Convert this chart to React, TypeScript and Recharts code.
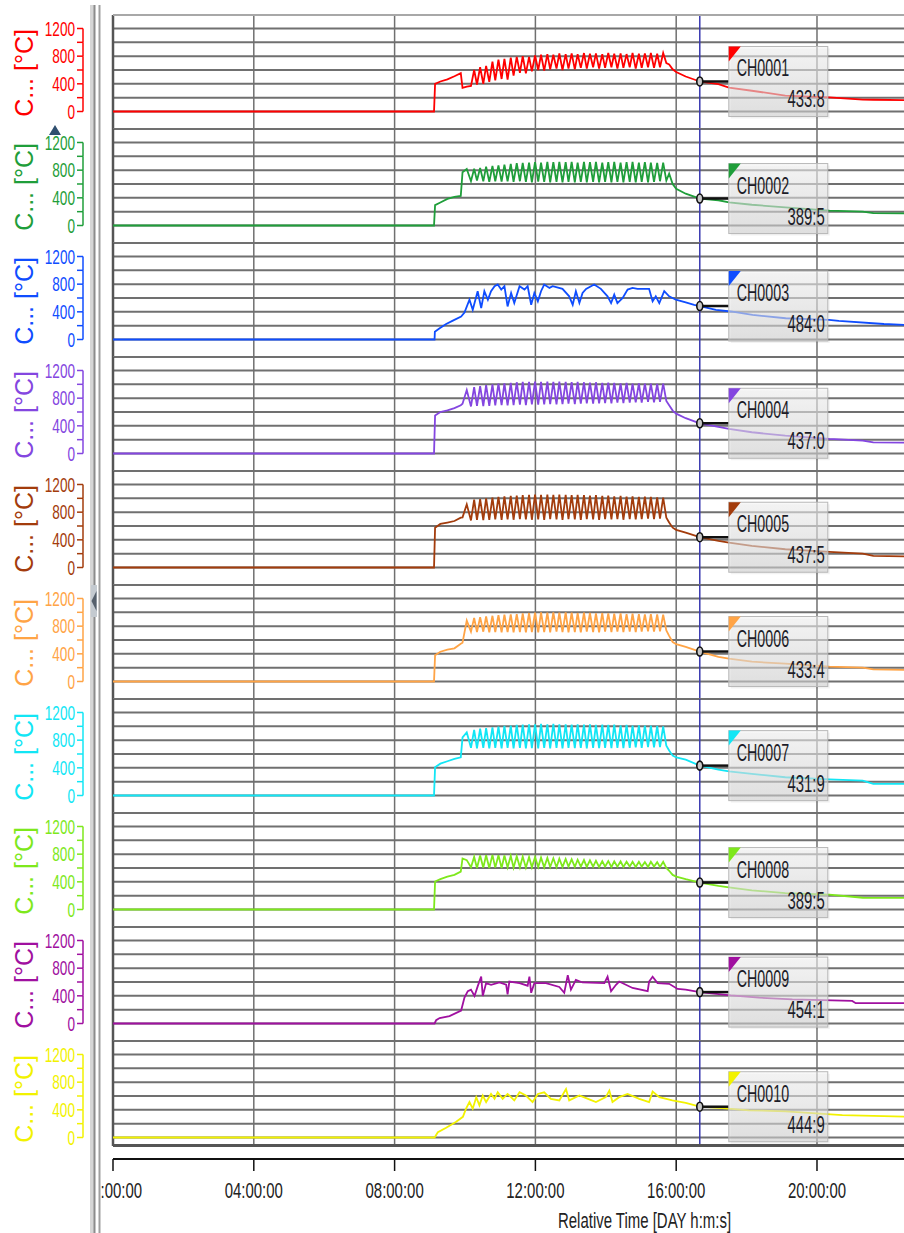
import { LineChart, Line, XAxis, YAxis, CartesianGrid, ReferenceLine, ReferenceDot } from "recharts";

const FONT = "'Liberation Sans', Arial, sans-serif";
const SQUEEZE = 0.68;

const CHANNELS = ["CH0001", "CH0002", "CH0003", "CH0004", "CH0005", "CH0006", "CH0007", "CH0008", "CH0009", "CH0010"];
const COLORS = ["#ff0000", "#1f9e3a", "#0f4dff", "#8446e0", "#a33c0c", "#ffa446", "#12e6f5", "#7ee81c", "#a010a0", "#f2f200"];
const AXIS_LABEL = "C... [°C]";
const Y_TICKS = [0, 200, 400, 600, 800, 1000, 1200];
const X_TICKS = [0, 4, 8, 12, 16, 20];
const X_TICK_LABELS = ["00:00:00", "04:00:00", "08:00:00", "12:00:00", "16:00:00", "20:00:00"];
const X_TITLE = "Relative Time [DAY h:m:s]";

// cursor read-out
const CURSOR_T = 16.67;
const CURSOR_V = [433.8, 389.5, 484.0, 437.0, 437.5, 433.4, 431.9, 389.5, 454.1, 444.9];
const CURSOR_TEXT = ["433:8", "389:5", "484:0", "437:0", "437:5", "433:4", "431:9", "389:5", "454:1", "444:9"];

// shared time bases (hours) for the cycling channels
const HEAD_T = [0, 9.12, 9.15, 9.3, 9.5, 9.7, 9.88, 9.93, 10.05];
const OSC_T = [
  10.17, 10.26, 10.34, 10.43, 10.52, 10.6, 10.69, 10.78, 10.86, 10.95,
  11.04, 11.12, 11.21, 11.3, 11.38, 11.47, 11.56, 11.64, 11.73, 11.82,
  11.9, 11.99, 12.08, 12.16, 12.25, 12.34, 12.42, 12.51, 12.6, 12.68,
  12.77, 12.86, 12.94, 13.03, 13.12, 13.2, 13.29, 13.38, 13.46, 13.55,
  13.64, 13.72, 13.81, 13.9, 13.98, 14.07, 14.16, 14.24, 14.33, 14.42,
  14.5, 14.59, 14.68, 14.76, 14.85, 14.94, 15.02, 15.11, 15.2, 15.28,
  15.37, 15.46, 15.54, 15.63, 15.72,
];
const TAIL_T = [15.8, 15.9, 16.0, 16.27, 16.67, 17.2, 17.5, 18.15, 19.1, 20.35, 21.3, 21.6, 22.6];

const CH1_HEAD = [0, 0, 400, 434, 465, 510, 554, 342, 361];
const CH1_OSC = [
  370, 600, 390, 640, 400, 660, 430, 720, 450, 750,
  470, 760, 460, 780, 520, 790, 560, 800, 550, 790,
  580, 810, 600, 820, 590, 830, 610, 820, 620, 840,
  600, 830, 620, 840, 610, 830, 630, 845, 620, 835,
  640, 840, 620, 830, 630, 845, 640, 835, 620, 840,
  630, 830, 640, 845, 620, 835, 630, 840, 640, 845,
  630, 835, 640, 845, 700,
];
const CH1_TAIL = [680, 610, 570, 506, 434, 395, 345, 300, 230, 205, 172, 170, 165];

const CH2_HEAD = [0, 0, 295, 333, 385, 415, 428, 770, 817];
const CH2_OSC = [
  640, 820, 650, 830, 640, 850, 630, 860, 640, 870,
  635, 880, 640, 890, 630, 900, 640, 905, 630, 910,
  625, 915, 635, 910, 630, 920, 625, 915, 630, 920,
  625, 915, 630, 920, 625, 910, 630, 920, 625, 915,
  630, 920, 625, 910, 630, 915, 625, 920, 630, 910,
  625, 915, 630, 920, 625, 910, 630, 915, 625, 910,
  630, 905, 640, 910, 650,
];
const CH2_TAIL = [750, 600, 530, 460, 390, 365, 335, 300, 262, 215, 200, 178, 176];

const CH3_T = [
  0, 9.135, 9.144, 9.28, 9.465, 9.655, 9.89, 9.985, 10.127, 10.22,
  10.36, 10.46, 10.55, 10.65, 10.74, 10.84, 10.93, 11.03, 11.12, 11.21,
  11.31, 11.4, 11.55, 11.69, 11.78, 11.88, 11.97, 12.07, 12.16, 12.25,
  12.4, 12.49, 12.77, 12.96, 13.06, 13.15, 13.25, 13.34, 13.44, 13.67,
  13.86, 14.05, 14.15, 14.24, 14.33, 14.48, 14.62, 14.76, 14.9, 15.23,
  15.33, 15.42, 15.52, 15.66, 15.8, 15.99, 16.27, 16.51, 16.67, 17.13,
  17.55, 18.17, 19.11, 20.34, 20.62, 21.9, 22.6,
];
const CH3_V = [
  0, 0, 112, 161, 224, 273, 332, 390, 575, 430,
  698, 454, 698, 575, 698, 770, 795, 722, 770, 478,
  673, 527, 770, 722, 770, 502, 673, 551, 698, 795,
  746, 770, 732, 624, 502, 698, 527, 673, 732, 795,
  732, 624, 527, 649, 527, 600, 722, 746, 732, 732,
  551, 624, 527, 698, 624, 575, 537, 502, 484, 429,
  405, 356, 307, 283, 268, 224, 210,
];

const CH4_HEAD = [0, 0, 551, 600, 625, 655, 698, 720, 917];
const CH4_OSC = [
  680, 960, 690, 975, 685, 990, 690, 1000, 695, 1010,
  700, 1015, 695, 1020, 700, 1030, 705, 1035, 700, 1035,
  710, 1040, 705, 1035, 710, 1040, 715, 1035, 710, 1040,
  715, 1035, 720, 1030, 715, 1035, 720, 1030, 725, 1025,
  720, 1030, 725, 1020, 730, 1025, 725, 1020, 735, 1015,
  730, 1020, 735, 1010, 740, 1015, 735, 1010, 745, 1010,
  740, 1005, 745, 1010, 760,
];
const CH4_TAIL = [698, 620, 576, 510, 437, 385, 355, 307, 258, 210, 185, 160, 158];

const CH5_HEAD = [0, 0, 576, 630, 650, 672, 720, 725, 912];
const CH5_OSC = [
  680, 980, 690, 990, 685, 1000, 690, 1010, 695, 1020,
  690, 1030, 695, 1035, 690, 1040, 700, 1045, 695, 1050,
  690, 1055, 695, 1050, 690, 1055, 700, 1050, 695, 1055,
  690, 1050, 700, 1045, 695, 1050, 690, 1045, 700, 1040,
  695, 1045, 690, 1035, 700, 1040, 695, 1030, 700, 1035,
  690, 1025, 700, 1030, 695, 1020, 700, 1025, 705, 1020,
  700, 1015, 705, 1010, 720,
];
const CH5_TAIL = [650, 576, 545, 504, 438, 384, 360, 312, 264, 226, 200, 168, 160];

const CH6_HEAD = [0, 0, 381, 430, 460, 480, 547, 560, 881];
const CH6_OSC = [
  720, 920, 715, 930, 720, 940, 710, 950, 715, 960,
  710, 965, 715, 970, 710, 975, 715, 985, 710, 990,
  715, 995, 710, 1000, 715, 995, 710, 1000, 720, 995,
  715, 1000, 710, 995, 715, 990, 710, 995, 720, 990,
  715, 985, 710, 990, 720, 985, 715, 980, 720, 985,
  715, 975, 720, 980, 715, 975, 720, 970, 725, 975,
  720, 970, 725, 965, 737,
];
const CH6_TAIL = [660, 571, 540, 500, 433, 357, 330, 286, 257, 214, 200, 176, 167];

const CH7_HEAD = [0, 0, 408, 460, 495, 528, 552, 840, 912];
const CH7_OSC = [
  690, 950, 680, 965, 690, 975, 680, 985, 690, 995,
  680, 1005, 690, 1010, 680, 1020, 690, 1025, 680, 1030,
  685, 1030, 680, 1035, 690, 1030, 680, 1035, 690, 1030,
  680, 1030, 690, 1025, 685, 1030, 690, 1025, 680, 1030,
  690, 1020, 685, 1025, 690, 1020, 685, 1025, 690, 1015,
  685, 1020, 690, 1010, 695, 1015, 690, 1010, 700, 1010,
  695, 1005, 700, 1000, 720,
];
const CH7_TAIL = [650, 576, 550, 518, 432, 374, 350, 312, 264, 232, 215, 168, 168];

const CH8_HEAD = [0, 0, 405, 440, 475, 500, 547, 738, 714];
const CH8_OSC = [
  610, 760, 600, 780, 605, 785, 600, 790, 605, 785,
  600, 780, 610, 775, 605, 770, 610, 765, 605, 760,
  610, 755, 615, 750, 610, 745, 615, 740, 610, 735,
  615, 730, 620, 725, 615, 720, 620, 715, 615, 710,
  620, 705, 615, 700, 620, 700, 615, 695, 620, 695,
  615, 690, 620, 690, 615, 690, 620, 685, 615, 690,
  620, 685, 615, 690, 600,
];
const CH8_TAIL = [560, 500, 476, 438, 390, 343, 320, 276, 238, 214, 170, 167, 167];

const CH9_T = [
  0, 9.135, 9.18, 9.28, 9.56, 9.89, 9.985, 10.08, 10.17, 10.27,
  10.36, 10.46, 10.505, 10.6, 10.74, 10.98, 11.17, 11.21, 11.26, 11.55,
  11.78, 11.83, 11.88, 11.97, 12.3, 12.68, 12.82, 12.92, 13.01, 13.15,
  13.34, 13.96, 14.05, 14.15, 14.29, 14.38, 14.76, 15.19, 15.23, 15.33,
  15.47, 15.8, 16.04, 16.27, 16.67, 17.55, 18.35, 19.3, 21.0, 21.1,
  22.6,
];
const CH9_V = [
  0, 0, 47, 79, 107, 187, 374, 467, 490, 397,
  537, 677, 397, 584, 560, 593, 560, 420, 607, 584,
  546, 677, 444, 584, 584, 528, 444, 700, 490, 630,
  593, 584, 677, 467, 560, 607, 514, 467, 607, 677,
  584, 574, 500, 490, 454, 406, 374, 350, 327, 294,
  294,
];

const CH10_T = [
  0, 9.135, 9.23, 9.465, 9.75, 9.94, 10.03, 10.127, 10.22, 10.32,
  10.41, 10.505, 10.6, 10.74, 10.84, 10.93, 11.07, 11.21, 11.4, 11.55,
  11.73, 11.92, 12.07, 12.25, 12.44, 12.68, 12.87, 12.96, 13.25, 13.53,
  13.72, 14.0, 14.1, 14.19, 14.38, 14.62, 14.95, 15.23, 15.33, 15.52,
  15.89, 16.27, 16.67, 17.22, 18.07, 19.11, 20.72, 22.6,
];
const CH10_V = [
  0, 0, 76, 142, 228, 299, 417, 512, 417, 583,
  465, 607, 512, 630, 559, 654, 559, 630, 536, 654,
  607, 512, 630, 654, 559, 536, 701, 536, 607, 550,
  512, 583, 678, 512, 583, 630, 559, 512, 663, 583,
  536, 502, 445, 427, 393, 379, 322, 299,
];

const joinSeries = (head: number[], osc: number[], tail: number[]) => [
  ...HEAD_T.map((t, i) => ({ t, v: head[i] })),
  ...OSC_T.map((t, i) => ({ t, v: osc[i] })),
  ...TAIL_T.map((t, i) => ({ t, v: tail[i] })),
];
const zipSeries = (ts: number[], vs: number[]) => ts.map((t, i) => ({ t, v: vs[i] }));

const SERIES = [
  joinSeries(CH1_HEAD, CH1_OSC, CH1_TAIL),
  joinSeries(CH2_HEAD, CH2_OSC, CH2_TAIL),
  zipSeries(CH3_T, CH3_V),
  joinSeries(CH4_HEAD, CH4_OSC, CH4_TAIL),
  joinSeries(CH5_HEAD, CH5_OSC, CH5_TAIL),
  joinSeries(CH6_HEAD, CH6_OSC, CH6_TAIL),
  joinSeries(CH7_HEAD, CH7_OSC, CH7_TAIL),
  joinSeries(CH8_HEAD, CH8_OSC, CH8_TAIL),
  zipSeries(CH9_T, CH9_V),
  zipSeries(CH10_T, CH10_V),
];

// layout
const PANEL_TOP = 15;
const PANEL_H = 114;
const LAST_H = 105;
const PLOT_LEFT = 113;
const PX_PER_HOUR = 35.2;
const X_MAX = 30.2;
const CHART_W = PLOT_LEFT + X_MAX * PX_PER_HOUR;
const Y_MIN = -253;
const Y_MAX = 1395;
const LAST_Y_MIN = -123;
const STEP_PX = (PANEL_H * 200) / (Y_MAX - Y_MIN);
const AXIS_TOP = 1157;

const YTick = (props: any) => {
  const { x, y, payload, color } = props;
  const v = payload.value;
  return (
    <g>
      <line x1={x + 2} x2={x + 8} y1={y} y2={y} stroke={color} strokeWidth={1.5} />
      {v < 1200 && <line x1={x + 8} x2={x + 8} y1={y} y2={y - STEP_PX} stroke={color} strokeWidth={1.5} />}
      {v % 400 === 0 && (
        <text
          transform={`translate(${x},${y}) scale(${SQUEEZE},1)`}
          textAnchor="end"
          dy="0.36em"
          fontSize={20}
          fill={color}
          fontFamily={FONT}
        >
          {v}
        </text>
      )}
    </g>
  );
};

const yLabel = (color: string) => (props: any) => {
  const vb = props.viewBox || { y: 0 };
  const cy = vb.y + 58;
  return (
    <text x={33} y={cy} transform={`rotate(-90, 33, ${cy})`} textAnchor="middle" fontSize={25} fill={color} fontFamily={FONT}>
      {AXIS_LABEL}
    </text>
  );
};

const CursorTag = (props: any) => {
  const { cx, cy, color, name, text, k } = props;
  const bx = cx + 29;
  const by = cy - 35;
  return (
    <g>
      <defs>
        <linearGradient id={`tag${k}`} x1="0" y1="0" x2="0" y2="1">
          <stop offset="0%" stopColor="#f4f4f4" />
          <stop offset="100%" stopColor="#d2d2d2" />
        </linearGradient>
      </defs>
      <line x1={cx} x2={bx} y1={cy} y2={cy} stroke="#111" strokeWidth={2.5} />
      <rect x={bx + 2} y={by + 2} width={99} height={70} fill="#000" opacity={0.05} />
      <rect x={bx} y={by} width={99} height={70} fill={`url(#tag${k})`} fillOpacity={0.6} stroke="#b8b8b8" />
      <polygon points={`${bx},${by} ${bx + 12},${by} ${bx},${by + 15}`} fill={color} />
      <text transform={`translate(${bx + 8},${by + 30}) scale(0.62,1)`} fontSize={23} fill="#1c1c28" fontFamily={FONT}>
        {name}
      </text>
      <text
        transform={`translate(${bx + 96},${by + 61}) scale(0.62,1)`}
        textAnchor="end"
        fontSize={24}
        fill="#1c1c28"
        fontFamily={FONT}
      >
        {text}
      </text>
      <ellipse cx={cx} cy={cy} rx={3} ry={4.5} fill="#c8c8c8" stroke="#111" strokeWidth={1.6} />
    </g>
  );
};

const Panel = ({ k }: { k: number }) => {
  const last = k === CHANNELS.length - 1;
  const color = COLORS[k];
  return (
    <div style={{ position: "absolute", left: 0, top: PANEL_TOP + k * PANEL_H }}>
      <LineChart width={CHART_W} height={last ? LAST_H : PANEL_H} data={SERIES[k]} margin={{ top: 0, right: 0, bottom: 0, left: 0 }}>
        <CartesianGrid vertical={false} stroke="#707070" strokeWidth={2} />
        <CartesianGrid horizontal={false} stroke="#707070" strokeWidth={1.5} />
        <XAxis dataKey="t" type="number" domain={[0, X_MAX]} ticks={X_TICKS} hide allowDataOverflow />
        <YAxis
          type="number"
          domain={[last ? LAST_Y_MIN : Y_MIN, Y_MAX]}
          ticks={Y_TICKS}
          width={PLOT_LEFT}
          tickSize={30}
          tickMargin={8}
          axisLine={false}
          tickLine={false}
          interval={0}
          allowDataOverflow
          tick={<YTick color={color} />}
          label={yLabel(color)}
        />
        <ReferenceLine x={0} stroke="#555" strokeWidth={2.5} />
        <Line type="linear" dataKey="v" stroke={color} strokeWidth={1.8} dot={false} isAnimationActive={false} />
        <ReferenceLine x={CURSOR_T} stroke="#3a3ab0" strokeWidth={1.5} />
        <ReferenceDot
          x={CURSOR_T}
          y={CURSOR_V[k]}
          r={4}
          ifOverflow="visible"
          shape={(p: any) => <CursorTag cx={p.cx} cy={p.cy} color={color} name={CHANNELS[k]} text={CURSOR_TEXT[k]} k={k} />}
        />
      </LineChart>
    </div>
  );
};

const XTick = (props: any) => {
  const { x, y, payload } = props;
  const label = X_TICK_LABELS[X_TICKS.indexOf(payload.value)];
  return (
    <text transform={`translate(${x},${y}) scale(${SQUEEZE},1)`} textAnchor="middle" dy={23} fontSize={22} fill="#222" fontFamily={FONT}>
      {label}
    </text>
  );
};

const xTitle = (props: any) => {
  const vb = props.viewBox || { x: PLOT_LEFT, width: CHART_W - PLOT_LEFT };
  const cx = vb.x + vb.width / 2;
  return (
    <text transform={`translate(${cx},71) scale(${SQUEEZE},1)`} textAnchor="middle" fontSize={22} fill="#222" fontFamily={FONT}>
      {X_TITLE}
    </text>
  );
};

const AXIS_DATA = [{ t: 0 }, { t: X_MAX }];

export default function App() {
  return (
    <div
      style={{
        position: "fixed",
        left: 0,
        top: 0,
        width: 904,
        height: 1233,
        overflow: "hidden",
        background: "#fff",
        fontFamily: FONT,
      }}
    >
      <style>{`.recharts-surface { overflow: visible; }`}</style>
      {CHANNELS.map((_, k) => (
        <Panel key={k} k={k} />
      ))}
      <div style={{ position: "absolute", left: 0, top: AXIS_TOP }}>
        <LineChart width={CHART_W} height={76} data={AXIS_DATA} margin={{ top: 1, right: 0, bottom: 0, left: PLOT_LEFT }}>
          <XAxis
            dataKey="t"
            type="number"
            domain={[0, X_MAX]}
            ticks={X_TICKS}
            height={74}
            tickSize={12}
            tickMargin={4}
            interval={0}
            axisLine={{ stroke: "#111", strokeWidth: 2 }}
            tickLine={{ stroke: "#111", strokeWidth: 1.5 }}
            tick={<XTick />}
            label={xTitle}
          />
          <YAxis hide domain={[0, 1]} />
        </LineChart>
      </div>
      {/* frame borders */}
      <div style={{ position: "absolute", left: PLOT_LEFT, top: 14, width: 904, height: 2, background: "#a8a8a8" }} />
      <div style={{ position: "absolute", left: PLOT_LEFT, top: 1144, width: 904, height: 2.5, background: "#555" }} />
      {/* splitter on the left */}
      <svg style={{ position: "absolute", left: 0, top: 0 }} width={112} height={1233}>
        <rect x={78} y={1162} width={23} height={71} fill="#fff" />
        <rect x={90} y={5} width={4} height={1228} fill="#d6d6d6" />
        <line x1={94.5} x2={94.5} y1={5} y2={1233} stroke="#8c8c8c" strokeWidth={2} />
        <line x1={99.5} x2={99.5} y1={5} y2={1233} stroke="#a0a0a0" strokeWidth={2} />
        <rect x={91} y={585} width={6} height={32} fill="#c4cad0" />
        <polygon points="96.5,591 91.5,601 96.5,611" fill="#56606c" />
        <polygon points="49,135 55,125 61,135" fill="#2f4f6f" />
      </svg>
    </div>
  );
}
